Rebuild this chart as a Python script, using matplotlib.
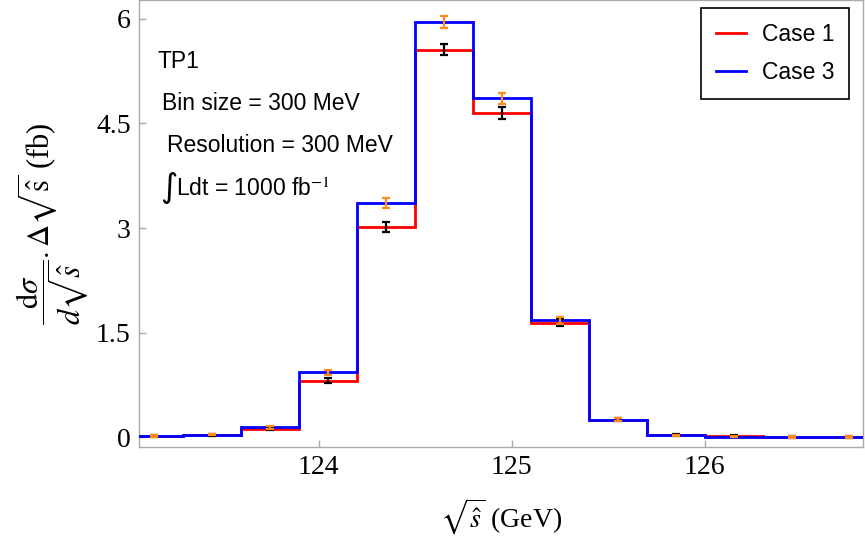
import matplotlib
matplotlib.use("Agg")
import matplotlib.pyplot as plt

# bin edges in sqrt(s-hat) (GeV), 300 MeV bins
edges = [123.0, 123.3, 123.6, 123.9, 124.2, 124.5, 124.8, 125.1,
         125.4, 125.7, 126.0, 126.3, 126.6, 126.9]
centers = [123.15, 123.45, 123.75, 124.05, 124.35, 124.65, 124.95,
           125.25, 125.55, 125.85, 126.15, 126.45, 126.75]

case1 = [0.02, 0.03, 0.12, 0.81, 3.02, 5.56, 4.65, 1.64, 0.25, 0.03, 0.015, 0.005, 0.005]
case3 = [0.02, 0.035, 0.14, 0.93, 3.36, 5.96, 4.86, 1.68, 0.25, 0.025, 0.008, 0.005, 0.005]
err1 = [0.01, 0.01, 0.015, 0.035, 0.07, 0.08, 0.08, 0.05, 0.02, 0.01, 0.01, 0.01, 0.01]
err3 = [0.01, 0.01, 0.015, 0.04, 0.075, 0.085, 0.08, 0.05, 0.02, 0.01, 0.01, 0.01, 0.01]

xticks = [124, 125, 126]
yticks = [0, 1.5, 3, 4.5, 6]
ytick_labels = ["0", "1.5", "3", "4.5", "6"]

plt.rcParams["mathtext.fontset"] = "stix"
SERIF = "Liberation Serif"
SANS = "Liberation Sans"

W, H = 865, 544
AX_L, AX_R, AX_T, AX_B = 139, 863, 0, 447

fig = plt.figure(figsize=(W / 100, H / 100), dpi=100)
ax = fig.add_axes([AX_L / W, 1 - AX_B / H, (AX_R - AX_L) / W, (AX_B - AX_T) / H])

ax.stairs(case1, edges, color="#ff0000", linewidth=2.0, label="Case 1", zorder=2)
ax.stairs(case3, edges, color="#0000ff", linewidth=2.0, label="Case 3", zorder=3)

ax.errorbar(centers, case1, yerr=err1, fmt="none", ecolor="black",
            elinewidth=1.6, capsize=3, capthick=1.6, zorder=4)
ax.errorbar(centers, case3, yerr=err3, fmt="none", ecolor="#ff8c1a",
            elinewidth=1.6, capsize=3, capthick=1.6, zorder=4)

ax.set_xlim(123.07, 126.82)
ax.set_ylim(-0.14, 6.27)
ax.set_xticks(xticks)
ax.set_xticklabels([str(t) for t in xticks], fontfamily=SERIF, fontsize=20)
ax.set_yticks(yticks)
ax.set_yticklabels(ytick_labels, fontfamily=SERIF, fontsize=20)
ax.tick_params(direction="in", length=5, color="#aaaaaa", width=1, pad=6)

for sp in ax.spines.values():
    sp.set_color("#aaaaaa")
    sp.set_linewidth(1)

ax.set_xlabel(r"$\sqrt{\hat{s}}$ (GeV)", fontfamily=SERIF, fontsize=20, labelpad=12)
ax.set_ylabel(r"$\dfrac{\mathrm{d}\sigma}{d\sqrt{\hat{s}}}.\Delta\sqrt{\hat{\mathrm{s}}}$ (fb)",
              fontfamily=SERIF, fontsize=22, labelpad=4)


def ax_xy(px, py):
    return (px - AX_L) / (AX_R - AX_L), 1 - (py - AX_T) / (AX_B - AX_T)


# annotation block
txt_kw = dict(transform=ax.transAxes, fontfamily=SANS, fontsize=16.5, va="center", ha="left")
ax.text(*ax_xy(157, 62), "TP1", **txt_kw)
ax.text(*ax_xy(162, 103), "Bin size = 300 MeV", **txt_kw)
ax.text(*ax_xy(167, 145), "Resolution = 300 MeV", **txt_kw)
ax.text(*ax_xy(160, 188), "\u222b", transform=ax.transAxes, fontfamily="DejaVu Sans",
        fontsize=24, va="center", ha="left")
ax.text(*ax_xy(176, 189), r"Ldt = 1000 fb$^{-1}$", **txt_kw)

leg = ax.legend(loc="upper right", bbox_to_anchor=ax_xy(849, 8), fancybox=False,
                edgecolor="black", framealpha=1, prop={"family": SANS, "size": 16.5},
                handlelength=1.3, handletextpad=0.7, borderpad=0.65, labelspacing=0.65,
                borderaxespad=0)
leg.get_frame().set_linewidth(1.2)

fig.savefig("out.png", dpi=100)
